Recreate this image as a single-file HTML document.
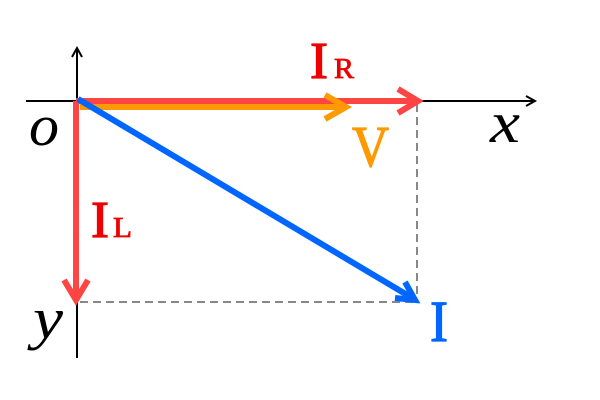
<!DOCTYPE html>
<html><head><style>body{margin:0;background:#fff}svg{display:block}</style></head><body>
<svg width="600" height="400" viewBox="0 0 600 400" xmlns="http://www.w3.org/2000/svg">
<g stroke="#000" stroke-width="2" fill="none">
<line x1="26" y1="101" x2="534" y2="101"/>
<polyline points="526,96 535,101 526,106"/>
<line x1="77" y1="49" x2="77" y2="358"/>
<polyline points="72,57 77,48 82,57"/>
</g>
<g stroke="#888" stroke-width="2" stroke-dasharray="8,5" fill="none">
<line x1="417" y1="104" x2="417" y2="302"/>
<line x1="80" y1="302" x2="417" y2="302"/>
</g>
<g stroke="#FF4444" stroke-width="6" fill="none" stroke-linecap="butt">
<line x1="76" y1="101" x2="418" y2="101"/>
<polyline points="398,89 418,101 398,113"/>
<line x1="76" y1="101" x2="76" y2="298"/>
<polyline points="64,280 76,300 88,280"/>
</g>
<g stroke="#FF9900" stroke-width="6" fill="none">
<line x1="80" y1="107" x2="345" y2="107"/>
<polyline points="325,95 346,107 325,119"/>
</g>
<g stroke="#0066FF" stroke-width="6" fill="none">
<line x1="78" y1="99" x2="414" y2="299"/>
<polyline points="395,298 415,300 405,282"/>
</g>
<g font-family="Liberation Serif, serif">
<text x="310" y="78" font-size="52" fill="#EE0000" stroke="#EE0000" stroke-width="1.2" textLength="18" lengthAdjust="spacingAndGlyphs">I</text>
<text x="334" y="78" font-size="29" fill="#EE0000" stroke="#EE0000" stroke-width="0.8" textLength="20" lengthAdjust="spacingAndGlyphs">R</text>
<text x="352" y="166" font-size="58" fill="#FF9900" stroke="#FF9900" stroke-width="1.2" textLength="37" lengthAdjust="spacingAndGlyphs">V</text>
<text x="91" y="237" font-size="52" fill="#EE0000" stroke="#EE0000" stroke-width="1.2" textLength="18" lengthAdjust="spacingAndGlyphs">I</text>
<text x="113" y="237" font-size="29" fill="#EE0000" stroke="#EE0000" stroke-width="0.8" textLength="19" lengthAdjust="spacingAndGlyphs">L</text>
<text x="430" y="341" font-size="58" fill="#0066FF" stroke="#0066FF" stroke-width="1.2" textLength="18" lengthAdjust="spacingAndGlyphs">I</text>
<text x="29" y="145" font-size="58" font-style="italic" textLength="30" lengthAdjust="spacingAndGlyphs">o</text>
<text x="490" y="142" font-size="58" font-style="italic" textLength="30" lengthAdjust="spacingAndGlyphs">x</text>
<text x="33" y="338" font-size="58" font-style="italic" textLength="30" lengthAdjust="spacingAndGlyphs">y</text>
</g>
</svg>
</body></html>
